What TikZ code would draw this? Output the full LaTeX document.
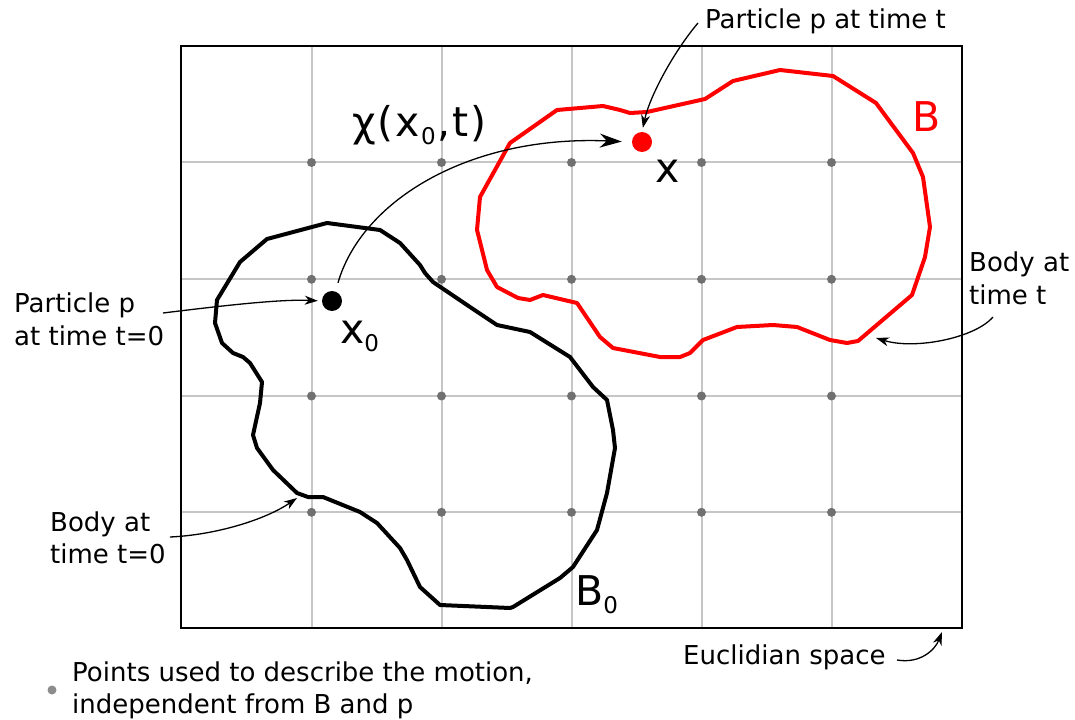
\documentclass[tikz,border=0pt]{standalone}
\usepackage{fontspec}
\setmainfont{DejaVu Sans}
\usetikzlibrary{arrows.meta}
\definecolor{gridgray}{HTML}{C6C6C6}
\definecolor{dotgray}{HTML}{707070}
\definecolor{leggray}{HTML}{8C8C8C}
\newcommand\subsc[1]{\raisebox{-8bp}{\fontsize{23bp}{23bp}\selectfont #1}}
\begin{document}
\begin{tikzpicture}[x=1bp,y=-1bp,
  gridline/.style={draw=gridgray, line width=2bp},
  griddot/.style={circle, fill=dotgray, minimum size=9bp, inner sep=0pt},
  body/.style={line width=4bp, line join=round},
  ptdot/.style={circle, minimum size=20bp, inner sep=0pt},
  lbl/.style={font=\fontsize{26bp}{32bp}\selectfont, inner sep=0pt, anchor=base west},
  big/.style={font=\fontsize{41bp}{48bp}\selectfont, inner sep=0pt, anchor=base west},
  thinarrow/.style={line width=1.3bp, -{Stealth[length=13bp,width=9bp,inset=4bp]}},
  bigarrow/.style={line width=1.3bp, -{Stealth[length=22bp,width=14bp,inset=7bp]}}]
\useasboundingbox (0,0) rectangle (1075,720);
% grid
\foreach \x in {311.5,441.5,571.5,701.5,831.5}
  \draw[gridline] (\x,46.5) -- (\x,628.3);
\foreach \y in {162.5,279.3,396,512.3}
  \draw[gridline] (180.5,\y) -- (961.5,\y);
\foreach \x in {311.5,441.5,571.5,701.5,831.5}
  \foreach \y in {162.5,279.3,396,512.3}
    \node[griddot] at (\x,\y) {};
% frame
\draw[line width=2bp] (180.5,46.5) rectangle (961.5,628.3);
% body B0
\draw[body] (327,223) -- (380,230) -- (400,243) -- (420,265) -- (425,273) -- (433,282)
  -- (470,307) -- (497,325) -- (530,332) -- (570,357) -- (593,387) -- (607,400)
  -- (613,430) -- (615,448) -- (607,493) -- (597,530) -- (573,567) -- (560,578)
  -- (513,607) -- (510,608) -- (440,605) -- (420,587) -- (407,560) -- (400,548)
  -- (377,523) -- (360,512) -- (323,497) -- (308,497) -- (297,493) -- (273,470)
  -- (257,448) -- (253,435) -- (260,403) -- (262,382) -- (250,363) -- (243,357)
  -- (233,353) -- (222,343) -- (215,323) -- (217,300) -- (240,262) -- (267,239) -- cycle;
% body B
\draw[body, red] (557,110) -- (603,106) -- (620,110) -- (630,113) -- (647,112) -- (705,99)
  -- (733,81) -- (780,70) -- (833,76) -- (876,103) -- (913,153) -- (923,177)
  -- (930,227) -- (925,257) -- (912,295) -- (858,341) -- (847,343) -- (830,340)
  -- (797,327) -- (773,325) -- (737,327) -- (703,340) -- (690,353) -- (680,357)
  -- (660,357) -- (613,348) -- (600,337) -- (577,303) -- (543,295) -- (530,300)
  -- (518,298) -- (497,287) -- (487,270) -- (477,230) -- (480,197) -- (510,143) -- cycle;
% particles
\node[ptdot, fill=black] (p0) at (332,301) {};
\node[ptdot, fill=red] (pt) at (642,142) {};
% big labels
\node[big] (chi) at (352,137) {χ\kern2bp(\kern2bp x\kern1bp\subsc{0}\kern2bp,\kern2bp t\kern2bp)};
\node[big] (xl) at (655,183) {x};
\node[big] (x0l) at (340,343) {x\subsc{0}};
\node[big, text=red] (Bl) at (912,132) {B};
\node[big] (B0l) at (575,605) {B\subsc{0}};
% small labels
\node[lbl] (ptt) at (705,29) {Particle p at time t};
\node[lbl] (pp1) at (14,312) {Particle p};
\node[lbl] (pp2) at (14,345) {at time t=0};
\node[lbl] (bz1) at (50,531) {Body at};
\node[lbl] (bz2) at (50,563) {time t=0};
\node[lbl] (bt1) at (969,271) {Body at};
\node[lbl] (bt2) at (969,304) {time t};
\node[lbl] (eu) at (683,664) {Euclidian space};
\node[circle, fill=leggray, minimum size=9bp, inner sep=0pt] (leg) at (52,690) {};
\node[lbl] (lg1) at (72,681) {Points used to describe the motion,};
\node[lbl] (lg2) at (72,713) {independent from B and p};
% connector coordinates
\coordinate (a2s) at (698,23);
\coordinate (a3s) at (163,313);
\coordinate (a4s) at (170,537);
\coordinate (a4e) at (297,498);
\coordinate (a5s) at (993,317);
\coordinate (a5e) at (876,338);
\coordinate (a6s) at (897,660);
\coordinate (a6e) at (942,632);
% arrows
\draw[bigarrow, shorten <=9bp, shorten >=10bp] (p0.70) .. controls (362,200) and (470,135) .. (pt.west);
\draw[thinarrow, shorten >=4bp] (a2s) .. controls (675,50) and (650,95) .. (pt.north);
\draw[thinarrow, shorten >=4bp] (a3s) .. controls (220,306) and (280,299) .. (p0.west);
\draw[thinarrow] (a4s) .. controls (215,535) and (265,520) .. (a4e);
\draw[thinarrow] (a5s) .. controls (975,338) and (915,350) .. (a5e);
\draw[thinarrow] (a6s) .. controls (920,664) and (935,650) .. (a6e);
\end{tikzpicture}
\end{document}
